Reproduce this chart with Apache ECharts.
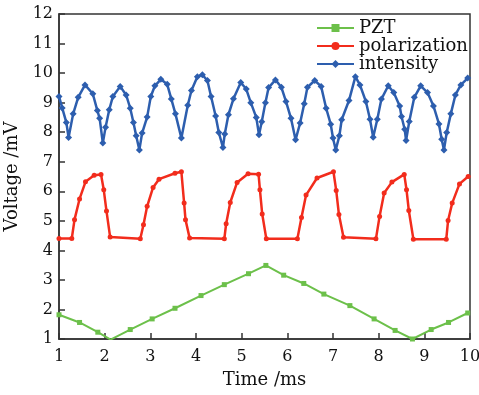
<!DOCTYPE html>
<html>
<head>
<meta charset="utf-8">
<script src="https://cdn.jsdelivr.net/npm/echarts@6/dist/echarts.min.js"></script>
<style>
  html, body { margin: 0; padding: 0; background: #fff; }
  #box { width: 479px; height: 395px; }
</style>
</head>
<body>
<div id="box"></div>
<script>
var dom = document.getElementById("box");
var myChart = echarts.init(dom);

// 数据
var pztX = [1.0, 1.45, 1.85, 2.13, 2.56, 3.04, 3.54, 4.11, 4.62, 5.15, 5.53, 5.92, 6.36, 6.80, 7.37, 7.90, 8.36, 8.74, 9.15, 9.53, 9.95];
var pztY = [1.82, 1.56, 1.23, 0.98, 1.32, 1.68, 2.04, 2.47, 2.84, 3.21, 3.49, 3.16, 2.88, 2.52, 2.13, 1.68, 1.29, 1.0, 1.32, 1.56, 1.88];

var polX = [1.0, 1.28, 1.34, 1.45, 1.58, 1.77, 1.92, 1.98, 2.04, 2.12,
            2.78, 2.85, 2.93, 3.06, 3.19, 3.54, 3.68, 3.74, 3.77, 3.86,
            4.62, 4.66, 4.75, 4.90, 5.14, 5.37, 5.40, 5.45, 5.54,
            6.22, 6.31, 6.41, 6.65, 7.01, 7.07, 7.13, 7.23,
            7.94, 8.02, 8.12, 8.29, 8.56, 8.61, 8.66, 8.76,
            9.48, 9.52, 9.61, 9.77, 9.96];
var polY = [4.40, 4.40, 5.04, 5.74, 6.32, 6.54, 6.57, 6.05, 5.33, 4.45,
            4.39, 4.87, 5.49, 6.13, 6.41, 6.61, 6.66, 5.60, 5.04, 4.42,
            4.39, 4.90, 5.62, 6.30, 6.59, 6.58, 6.05, 5.23, 4.39,
            4.39, 5.11, 5.87, 6.45, 6.66, 6.03, 5.21, 4.44,
            4.39, 5.15, 5.94, 6.31, 6.57, 6.05, 5.35, 4.38,
            4.38, 5.01, 5.60, 6.25, 6.50];

var intX = [1.0, 1.07, 1.16, 1.21, 1.31, 1.42, 1.57, 1.74, 1.84, 1.89, 1.96, 2.02, 2.10, 2.18,
            2.34, 2.47, 2.56, 2.63, 2.69, 2.76, 2.82, 2.93, 3.01, 3.10, 3.23, 3.37, 3.46, 3.55,
            3.68, 3.82, 3.90, 4.03, 4.14, 4.25, 4.33, 4.43, 4.50, 4.59, 4.63, 4.71, 4.82, 4.98,
            5.10, 5.20, 5.32, 5.38, 5.44, 5.52, 5.59, 5.74, 5.87, 5.97, 6.08, 6.18, 6.28, 6.37,
            6.44, 6.60, 6.74, 6.85, 6.95, 7.00, 7.06, 7.14, 7.19, 7.35, 7.49, 7.59, 7.72, 7.81,
            7.88, 7.97, 8.06, 8.21, 8.33, 8.46, 8.50, 8.57, 8.60, 8.67, 8.78, 8.92, 9.07, 9.20,
            9.32, 9.38, 9.43, 9.49, 9.58, 9.68, 9.80, 9.95];
var intY = [9.21, 8.82, 8.33, 7.82, 8.62, 9.18, 9.60, 9.30, 8.73, 8.47, 7.63, 8.17, 8.76, 9.21,
            9.55, 9.26, 8.81, 8.33, 7.88, 7.40, 7.97, 8.51, 9.21, 9.57, 9.79, 9.62, 9.12, 8.62,
            7.80, 8.91, 9.41, 9.88, 9.94, 9.75, 9.21, 8.55, 7.99, 7.48, 7.94, 8.59, 9.13, 9.68,
            9.46, 9.00, 8.50, 7.91, 8.35, 9.00, 9.51, 9.77, 9.52, 9.04, 8.47, 7.74, 8.31, 8.96,
            9.52, 9.75, 9.55, 8.81, 8.27, 7.80, 7.40, 7.88, 8.42, 9.07, 9.88, 9.60, 9.04, 8.44,
            7.83, 8.44, 9.12, 9.57, 9.34, 8.89, 8.53, 8.10, 7.72, 8.36, 9.18, 9.57, 9.34, 8.89,
            8.28, 7.76, 7.40, 7.99, 8.62, 9.26, 9.60, 9.83];

var xTicks = [1, 2, 3, 4, 5, 6, 7, 8, 9, 10];
var yTicks = [1, 2, 3, 4, 5, 6, 7, 8, 9, 10, 11, 12];

function pairs(xs, ys) {
    return xs.map(function (x, i) { return [x, ys[i]]; });
}

var fontFam = 'DejaVu Serif';

var option = {
    animation: false,
    backgroundColor: '#fff',
    textStyle: { fontFamily: fontFam, color: '#111' },
    grid: {
        left: 59, right: 9, top: 14, bottom: 56,
        outerBoundsMode: 'none',
        containLabel: false,
        show: true, borderColor: '#333', borderWidth: 1.5
    },
    legend: {
        orient: 'vertical',
        left: 316, top: 19, padding: 0,
        itemWidth: 37, itemHeight: 10, itemGap: 0,
        textStyle: { fontFamily: fontFam, fontSize: 18, color: '#111' },
        data: ['PZT', 'polarization', 'intensity']
    },
    xAxis: {
        type: 'value',
        min: xTicks[0], max: xTicks[xTicks.length - 1], interval: 1,
        name: 'Time /ms', nameLocation: 'middle', nameGap: 32,
        nameTextStyle: { fontFamily: fontFam, fontSize: 18, color: '#111' },
        axisLine: { onZero: false, lineStyle: { color: '#333', width: 1.5 } },
        axisTick: { inside: true, length: 6, lineStyle: { color: '#333', width: 1.5 } },
        axisLabel: { fontFamily: fontFam, fontSize: 16, color: '#111', margin: 10 },
        splitLine: { show: false }
    },
    yAxis: {
        type: 'value',
        min: yTicks[0], max: yTicks[yTicks.length - 1], interval: 1,
        name: 'Voltage /mV', nameLocation: 'middle', nameGap: 33,
        nameTextStyle: { fontFamily: fontFam, fontSize: 18, color: '#111' },
        axisLine: { onZero: false, lineStyle: { color: '#333', width: 1.5 } },
        axisTick: { inside: true, length: 6, lineStyle: { color: '#333', width: 1.5 } },
        axisLabel: { fontFamily: fontFam, fontSize: 16, color: '#111', margin: 6 },
        splitLine: { show: false }
    },
    series: [
        {
            name: 'PZT', type: 'line',
            data: pairs(pztX, pztY),
            symbol: 'rect', symbolSize: 5, showAllSymbol: true,
            itemStyle: { color: '#6cc04a' },
            lineStyle: { color: '#6cc04a', width: 2 }
        },
        {
            name: 'polarization', type: 'line',
            data: pairs(polX, polY),
            symbol: 'circle', symbolSize: 5, showAllSymbol: true,
            itemStyle: { color: '#f22c1c' },
            lineStyle: { color: '#f22c1c', width: 2.5 }
        },
        {
            name: 'intensity', type: 'line',
            data: pairs(intX, intY),
            symbol: 'diamond', symbolSize: 7, showAllSymbol: true,
            itemStyle: { color: '#2d5eae' },
            lineStyle: { color: '#2d5eae', width: 2.5 }
        }
    ]
};

myChart.setOption(option);
</script>
</body>
</html>
